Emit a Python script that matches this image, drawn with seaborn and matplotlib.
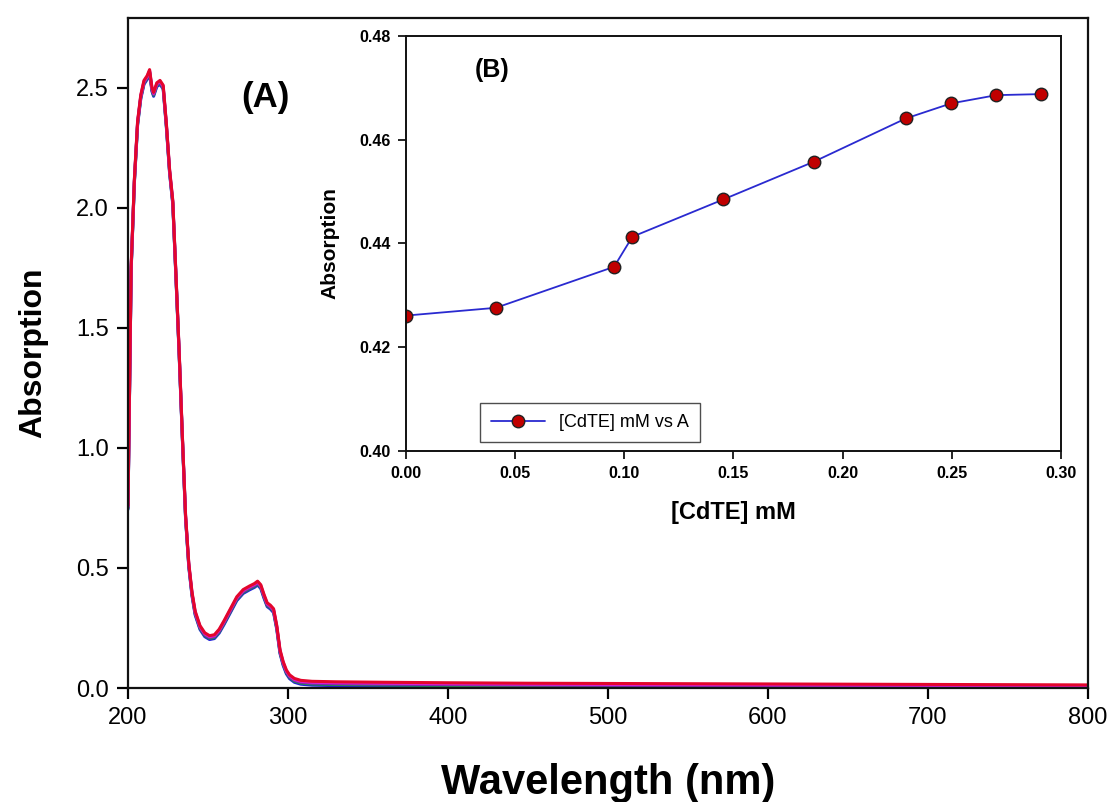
import numpy as np
import pandas as pd
import matplotlib
matplotlib.use("Agg")
import matplotlib.pyplot as plt
import seaborn as sns

# ---------------- data: panel (A) UV-Vis spectra ----------------
wavelength = [200, 202, 204, 206, 208, 210, 212, 213.5, 215, 216, 218, 220, 222,
              224, 226, 228, 230, 232, 234, 236, 238, 240, 242, 245, 248, 251,
              254, 257, 260, 264, 268, 272, 276, 279, 281, 283, 285, 287, 289,
              291, 293, 295, 297, 299, 301, 304, 308, 315, 330, 360, 400, 450,
              500, 550, 600, 650, 700, 750, 800]
absorbance_top = [0.76, 1.76, 2.12, 2.36, 2.47, 2.53, 2.55, 2.575, 2.50, 2.48, 2.52,
                  2.53, 2.51, 2.35, 2.16, 2.03, 1.72, 1.40, 1.05, 0.72, 0.52, 0.40,
                  0.32, 0.26, 0.23, 0.218, 0.222, 0.245, 0.28, 0.33, 0.38, 0.41,
                  0.425, 0.435, 0.445, 0.43, 0.39, 0.355, 0.345, 0.33, 0.26, 0.16,
                  0.11, 0.075, 0.055, 0.04, 0.032, 0.028, 0.026, 0.024, 0.022,
                  0.020, 0.019, 0.018, 0.017, 0.016, 0.015, 0.014, 0.013]
series_names = ["blue", "green", "purple", "magenta", "red"]
series_offsets = [-0.016, -0.011, -0.008, -0.004, 0.0]
series_colors = ["#2020d8", "#17a03a", "#7a2aa8", "#d81ed8", "#e3062c"]

# ---------------- data: panel (B) inset ----------------
cdte_mM = [0.0, 0.0412, 0.0953, 0.1037, 0.1454, 0.187, 0.2289, 0.2496, 0.2704, 0.291]
absorption_B = [0.4261, 0.4276, 0.4355, 0.4413, 0.4485, 0.4558, 0.4641, 0.4670, 0.4686, 0.4688]

# ---------------- style ----------------
sns.set_theme(style="ticks")
plt.rcParams["font.family"] = ["Liberation Sans", "DejaVu Sans"]
plt.rcParams["axes.edgecolor"] = "#111111"
plt.rcParams["text.color"] = "black"
plt.rcParams["axes.labelcolor"] = "black"

rows = []
for name, off in zip(series_names, series_offsets):
    for w, a in zip(wavelength, absorbance_top):
        rows.append({"Wavelength": w, "A": a + off, "series": name})
df = pd.DataFrame(rows)

fig = plt.figure(figsize=(11.11, 8.02), dpi=100)
ax = fig.add_axes([0.1152, 0.1421, 0.8641, 0.8355])

sns.lineplot(data=df, x="Wavelength", y="A", hue="series", hue_order=series_names,
             palette=dict(zip(series_names, series_colors)), estimator=None,
             sort=False, linewidth=2.2, legend=False, ax=ax)

ax.set_xlim(200, 800)
ax.set_ylim(0, 2.79)
ax.set_xticks([200, 300, 400, 500, 600, 700, 800])
ax.set_yticks([0.0, 0.5, 1.0, 1.5, 2.0, 2.5])
ax.set_yticklabels(["0.0", "0.5", "1.0", "1.5", "2.0", "2.5"])
ax.tick_params(axis="both", direction="out", length=8, width=1.6, labelsize=17,
               colors="black", pad=6)
ax.tick_params(top=False, right=False)
for s in ax.spines.values():
    s.set_linewidth(1.6)
    s.set_visible(True)
ax.set_xlabel("Wavelength (nm)", fontsize=30, fontweight="bold", labelpad=24)
ax.set_ylabel("Absorption", fontsize=23, fontweight="bold", labelpad=20)
ax.text(285.6, 2.46, "(A)", fontsize=25, fontweight="bold", ha="center", va="center")

# ---------------- inset (B) ----------------
axin = fig.add_axes([0.3654, 0.4377, 0.5896, 0.5174])
dfB = pd.DataFrame({"x": cdte_mM, "y": absorption_B})
sns.lineplot(data=dfB, x="x", y="y", ax=axin, color="#2a2ad0", linewidth=1.3,
             marker="o", markersize=9, markerfacecolor="#c00000",
             markeredgecolor="#222222", markeredgewidth=1.0,
             label="[CdTE] mM vs A")
axin.set_xlim(0, 0.30)
axin.set_ylim(0.40, 0.48)
axin.set_xticks([0.0, 0.05, 0.10, 0.15, 0.20, 0.25, 0.30])
axin.set_xticklabels(["0.00", "0.05", "0.10", "0.15", "0.20", "0.25", "0.30"])
axin.set_yticks([0.40, 0.42, 0.44, 0.46, 0.48])
axin.set_yticklabels(["0.40", "0.42", "0.44", "0.46", "0.48"])
axin.tick_params(axis="both", direction="out", length=6, width=1.2, labelsize=11.5,
                 colors="black", pad=5)
for lab in axin.get_xticklabels() + axin.get_yticklabels():
    lab.set_fontweight("bold")
for s in axin.spines.values():
    s.set_linewidth(1.4)
    s.set_visible(True)
axin.set_xlabel("[CdTE] mM", fontsize=17, fontweight="bold", labelpad=14)
axin.set_ylabel("Absorption", fontsize=15, fontweight="bold", labelpad=14)
axin.text(0.131, 0.918, "(B)", transform=axin.transAxes, fontsize=18,
          fontweight="bold", ha="center", va="center")
leg = axin.legend(loc="lower left", bbox_to_anchor=(0.113, 0.022), fontsize=13,
                  frameon=True, fancybox=False, edgecolor="#222222",
                  handlelength=3.0, borderpad=0.6, borderaxespad=0.0)
leg.get_frame().set_linewidth(1.0)

fig.savefig("out.png", dpi=100)
